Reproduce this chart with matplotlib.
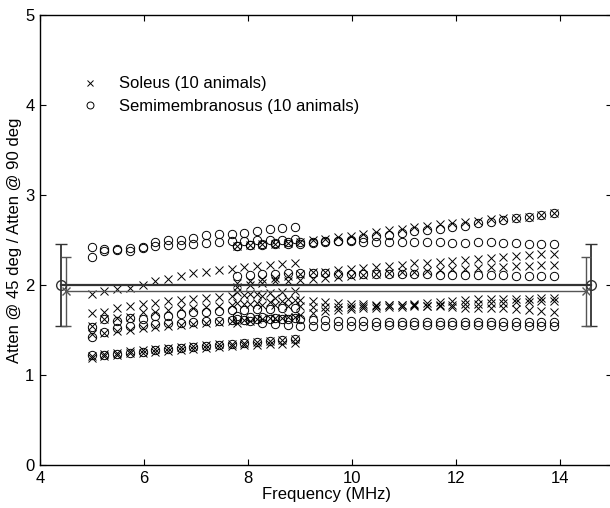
import matplotlib
matplotlib.use("Agg")
import matplotlib.pyplot as plt
from matplotlib.lines import Line2D

plt.rcParams['font.family'] = ['Liberation Sans', 'DejaVu Sans']

# frequency grids (MHz) of the two transducers
freq_lo = [5.00, 5.24, 5.49, 5.73, 5.98, 6.22, 6.46, 6.71, 6.95, 7.20, 7.44, 7.69,
           7.93, 8.17, 8.42, 8.66, 8.91]
freq_hi = [7.78, 8.03, 8.27, 8.52, 8.76, 9.00, 9.25, 9.49, 9.74, 9.98, 10.22, 10.47,
           10.71, 10.96, 11.20, 11.44, 11.69, 11.93, 12.18, 12.42, 12.67, 12.91,
           13.15, 13.40, 13.64, 13.89]

# soleus, low-frequency transducer
sol_lo = [
    [1.90, 1.93, 1.96, 1.97, 2.00, 2.04, 2.07, 2.10, 2.13, 2.15, 2.17, 2.18, 2.20, 2.21, 2.22, 2.23, 2.24],
    [1.69, 1.70, 1.75, 1.77, 1.79, 1.80, 1.82, 1.83, 1.84, 1.86, 1.87, 1.88, 1.89, 1.90, 1.91, 1.92, 1.93],
    [1.55, 1.62, 1.63, 1.65, 1.70, 1.70, 1.72, 1.74, 1.75, 1.76, 1.77, 1.78, 1.79, 1.80, 1.81, 1.82, 1.83],
    [1.46, 1.47, 1.49, 1.50, 1.52, 1.53, 1.55, 1.56, 1.57, 1.58, 1.59, 1.60, 1.61, 1.62, 1.63, 1.63, 1.64],
    [1.21, 1.23, 1.25, 1.27, 1.28, 1.29, 1.30, 1.31, 1.32, 1.33, 1.34, 1.35, 1.36, 1.37, 1.38, 1.39, 1.40],
    [1.19, 1.21, 1.22, 1.24, 1.25, 1.26, 1.27, 1.28, 1.29, 1.30, 1.31, 1.32, 1.33, 1.33, 1.34, 1.35, 1.36],
]
# semimembranosus, low-frequency transducer
semi_lo = [
    [2.42, 2.40, 2.40, 2.41, 2.42, 2.48, 2.50, 2.50, 2.52, 2.56, 2.57, 2.57, 2.58, 2.60, 2.62, 2.63, 2.65],
    [2.31, 2.38, 2.39, 2.38, 2.41, 2.43, 2.44, 2.44, 2.46, 2.47, 2.48, 2.49, 2.49, 2.50, 2.50, 2.50, 2.51],
    [1.53, 1.62, 1.60, 1.63, 1.62, 1.66, 1.66, 1.68, 1.70, 1.70, 1.71, 1.72, 1.72, 1.73, 1.73, 1.74, 1.74],
    [1.42, 1.48, 1.52, 1.54, 1.56, 1.57, 1.58, 1.58, 1.59, 1.60, 1.60, 1.61, 1.61, 1.62, 1.62, 1.62, 1.63],
    [1.22, 1.22, 1.23, 1.25, 1.26, 1.28, 1.29, 1.30, 1.31, 1.32, 1.33, 1.34, 1.36, 1.37, 1.38, 1.39, 1.40],
]
# soleus, high-frequency transducer
sol_hi = [
    [2.43, 2.44, 2.45, 2.46, 2.47, 2.48, 2.50, 2.51, 2.53, 2.55, 2.57, 2.59, 2.61, 2.62, 2.64, 2.66,
     2.68, 2.69, 2.70, 2.71, 2.73, 2.74, 2.75, 2.76, 2.78, 2.80],
    [2.02, 2.05, 2.07, 2.08, 2.10, 2.12, 2.14, 2.15, 2.17, 2.18, 2.19, 2.20, 2.21, 2.22, 2.24, 2.25,
     2.26, 2.27, 2.28, 2.29, 2.30, 2.31, 2.32, 2.33, 2.34, 2.35],
    [1.98, 2.00, 2.02, 2.04, 2.05, 2.06, 2.07, 2.08, 2.09, 2.10, 2.11, 2.12, 2.13, 2.14, 2.15, 2.16,
     2.17, 2.18, 2.18, 2.19, 2.20, 2.20, 2.21, 2.21, 2.22, 2.22],
    [1.92, 1.90, 1.88, 1.86, 1.84, 1.83, 1.82, 1.81, 1.80, 1.79, 1.79, 1.78, 1.78, 1.78, 1.79, 1.80,
     1.81, 1.82, 1.83, 1.84, 1.84, 1.85, 1.85, 1.85, 1.86, 1.86],
    [1.80, 1.79, 1.78, 1.78, 1.77, 1.77, 1.76, 1.76, 1.76, 1.76, 1.77, 1.77, 1.78, 1.78, 1.78, 1.77,
     1.77, 1.76, 1.75, 1.75, 1.74, 1.74, 1.73, 1.72, 1.71, 1.70],
    [1.58, 1.60, 1.62, 1.63, 1.65, 1.67, 1.69, 1.71, 1.72, 1.73, 1.74, 1.75, 1.76, 1.76, 1.77, 1.77,
     1.78, 1.78, 1.79, 1.79, 1.80, 1.80, 1.81, 1.81, 1.82, 1.82],
]
# semimembranosus, high-frequency transducer
semi_hi = [
    [2.43, 2.44, 2.44, 2.45, 2.45, 2.46, 2.47, 2.48, 2.49, 2.50, 2.52, 2.54, 2.56, 2.58, 2.60, 2.61,
     2.62, 2.64, 2.66, 2.69, 2.70, 2.72, 2.74, 2.76, 2.78, 2.80],
    [2.43, 2.44, 2.46, 2.47, 2.48, 2.48, 2.48, 2.49, 2.49, 2.49, 2.48, 2.48, 2.48, 2.48, 2.48, 2.48,
     2.48, 2.47, 2.47, 2.48, 2.48, 2.47, 2.47, 2.46, 2.46, 2.45],
    [2.10, 2.11, 2.12, 2.12, 2.13, 2.13, 2.13, 2.13, 2.12, 2.12, 2.12, 2.12, 2.12, 2.12, 2.12, 2.12,
     2.11, 2.11, 2.11, 2.11, 2.11, 2.11, 2.10, 2.10, 2.10, 2.10],
    [1.66, 1.65, 1.64, 1.63, 1.62, 1.62, 1.61, 1.61, 1.60, 1.60, 1.60, 1.59, 1.59, 1.59, 1.59, 1.59,
     1.59, 1.59, 1.59, 1.59, 1.59, 1.59, 1.59, 1.59, 1.59, 1.59],
    [1.62, 1.60, 1.58, 1.57, 1.56, 1.55, 1.55, 1.55, 1.55, 1.55, 1.55, 1.55, 1.56, 1.56, 1.56, 1.56,
     1.56, 1.56, 1.56, 1.56, 1.56, 1.55, 1.55, 1.55, 1.55, 1.55],
]

# overall means and standard deviations, shown at both ends
sol_mean, sol_sd = 1.93, 0.38
semi_mean, semi_sd = 2.00, 0.46
sol_ends = [4.5, 14.5]
semi_ends = [4.4, 14.6]

fig = plt.figure(figsize=(6.10, 5.08), dpi=100)
ax = fig.add_axes([40 / 610, 43 / 508, 572 / 610, 450 / 508])

for row in sol_lo:
    ax.plot(freq_lo, row, 'x', color='k', ms=5.5, mew=0.7)
for row in sol_hi:
    ax.plot(freq_hi, row, 'x', color='k', ms=5.5, mew=0.7)
for row in semi_lo:
    ax.plot(freq_lo, row, 'o', color='k', mfc='none', ms=6, mew=0.7)
for row in semi_hi:
    ax.plot(freq_hi, row, 'o', color='k', mfc='none', ms=6, mew=0.7)

ax.errorbar(semi_ends, [semi_mean] * 2, yerr=semi_sd, fmt='-o', color='#333333',
            mfc='none', ms=7, lw=1.6, elinewidth=1.3, capsize=4.5, capthick=1.0)
ax.errorbar(sol_ends, [sol_mean] * 2, yerr=sol_sd, fmt='-x', color='#555555',
            ms=6, mew=1.0, lw=1.0, elinewidth=1.0, capsize=3.8, capthick=0.9)

handles = [Line2D([], [], ls='none', marker='x', color='k', ms=5, mew=0.7),
           Line2D([], [], ls='none', marker='o', color='k', mfc='none', ms=5, mew=0.7)]
ax.legend(handles, ['Soleus (10 animals)', 'Semimembranosus (10 animals)'],
          loc='upper left', bbox_to_anchor=(0.047, 0.897), frameon=False,
          fontsize=12, handletextpad=1.2, labelspacing=0.45, handlelength=1.0)

ax.set_xlim(4, 15)
ax.set_ylim(0, 5)
ax.set_xticks([4, 6, 8, 10, 12, 14])
ax.set_yticks([0, 1, 2, 3, 4, 5])
ax.tick_params(direction='in', top=True, right=True, length=4, width=0.8,
               labelsize=12, pad=4)
for s in ax.spines.values():
    s.set_linewidth(1.0)
ax.set_xlabel('Frequency (MHz)', fontsize=12, labelpad=1)
ax.set_ylabel('Atten @ 45 deg / Atten @ 90 deg', fontsize=12, labelpad=2)

fig.savefig('out.png', dpi=100)
